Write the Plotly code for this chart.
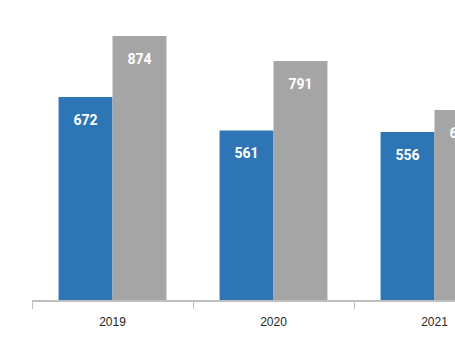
import plotly.graph_objects as go

years = ["2019", "2020", "2021"]
series_a = [672, 561, 556]
series_b = [874, 791, 629]

blue = "#2E75B6"
gray = "#A5A5A5"
label_font = dict(family="Roboto, Liberation Sans, sans-serif", size=14, color="white", weight="bold")

bargap = 0.33
cat_px = 161.0

fig = go.Figure()
for name, vals, color in (("A", series_a, blue), ("B", series_b, gray)):
    fig.add_bar(
        x=years, y=vals, name=name,
        marker=dict(color=color, line_width=0),
        hoverinfo="skip",
    )

# value labels: grouped like the bars, hung below each bar top by an invisible marker
for name, vals in (("A", series_a), ("B", series_b)):
    fig.add_scatter(
        x=years, y=vals, name=name + " label",
        mode="markers+text", text=[str(v) for v in vals],
        textposition="bottom center", textfont=label_font,
        marker=dict(size=26, opacity=0),
        cliponaxis=True, hoverinfo="skip", showlegend=False,
    )

fig.update_layout(
    width=455, height=341,
    margin=dict(l=32, r=0, t=0, b=41, pad=0),
    paper_bgcolor="white", plot_bgcolor="white",
    barmode="group", bargap=bargap, bargroupgap=0,
    scattermode="group", scattergap=bargap,
    showlegend=False,
    xaxis=dict(
        type="category",
        range=[-0.5, -0.5 + (455 - 32) / cat_px],
        showline=True, linecolor="#BFBFBF", linewidth=1.6,
        ticks="outside", tickson="boundaries", ticklen=7, tickcolor="#BFBFBF", tickwidth=1.3,
        tickfont=dict(family="Liberation Sans, sans-serif", size=12, color="#262626"),
        ticklabelstandoff=10,
        showgrid=False, zeroline=False,
    ),
    yaxis=dict(range=[0, 993], showticklabels=False, showline=False, ticks="",
               showgrid=False, zeroline=False),
)

fig.write_html("out.html")
